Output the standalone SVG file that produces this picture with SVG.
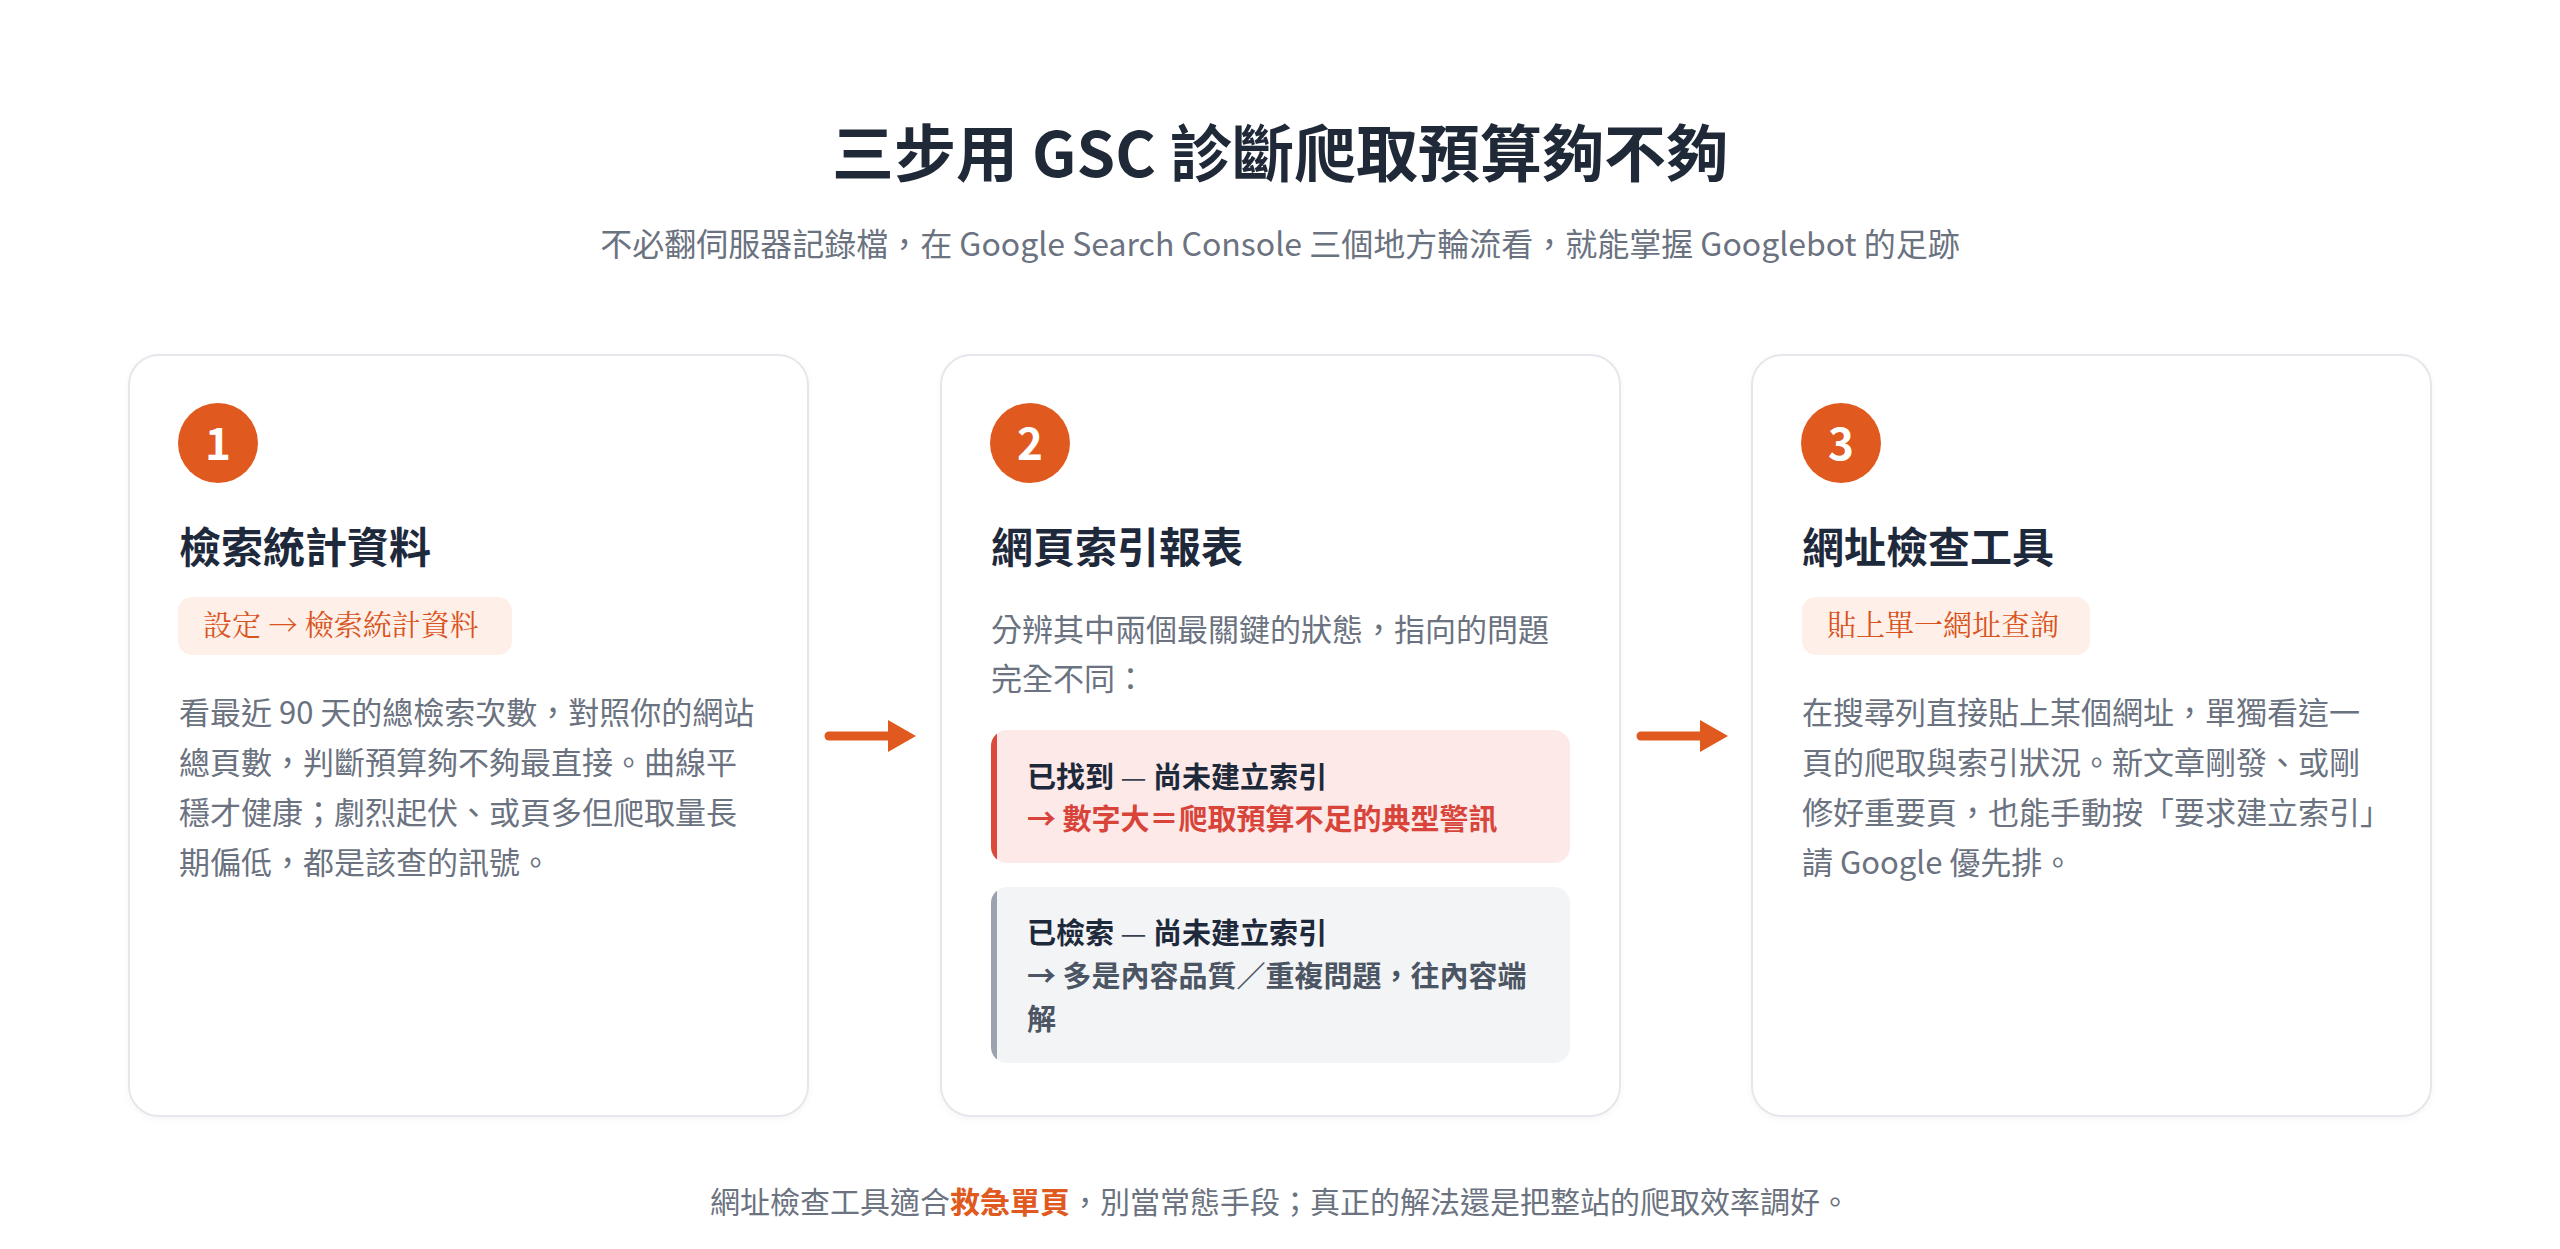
<svg xmlns="http://www.w3.org/2000/svg" width="2560" height="1249" viewBox="0 0 2560 1249">
<defs>
<style>
.t{font-family:"Noto Sans CJK TC","Noto Sans",sans-serif}
.h1{font-size:62px;font-weight:700;fill:#1f2937}
.sub{font-size:32px;fill:#6b7280}
.card{fill:#ffffff;stroke:#e4e7eb;stroke-width:2}
.num{fill:#e0591f}
.numt{font-size:44px;font-weight:700;fill:#ffffff}
.ct{font-size:42px;font-weight:700;fill:#1e293b}
.pill{fill:#fef0e8}
.pt{font-family:"Noto Serif CJK TC","Noto Sans CJK TC",serif;font-size:29px;fill:#d9541e}
.body{font-size:31px;fill:#6b7280}
.bx{font-size:29px;font-weight:700}
.dark{fill:#1e293b}
.dash{font-weight:400;fill:#374151}
.red{fill:#d8443a}
.gry{fill:#4b5563}
.foot{font-size:30px;fill:#6b7280}
.em{font-weight:700;fill:#e0591f}
.arr{stroke:#e0591f;stroke-width:9;stroke-linecap:round;fill:none}
.ah{fill:#e0591f}
</style>
<filter id="sh" x="-5%" y="-5%" width="110%" height="110%">
<feDropShadow dx="0" dy="2" stdDeviation="3" flood-color="#000" flood-opacity="0.04"/>
</filter>
<clipPath id="cr"><rect x="991" y="730" width="579" height="133" rx="16"/></clipPath>
<clipPath id="cg"><rect x="991" y="887" width="579" height="176" rx="16"/></clipPath>
</defs>
<rect width="2560" height="1249" fill="#ffffff"/>

<g id="header" class="t">
<text class="h1" x="1280" y="177" text-anchor="middle">三步用 GSC 診斷爬取預算夠不夠</text>
<text class="sub" x="1280" y="256" text-anchor="middle">不必翻伺服器記錄檔，在 Google Search Console 三個地方輪流看，就能掌握 Googlebot 的足跡</text>
</g>

<g id="connectors">
<g id="arrow1"><line class="arr" x1="829" y1="736" x2="892" y2="736"/><polygon class="ah" points="888,720 916,736 888,752"/></g>
<g id="arrow2"><line class="arr" x1="1641" y1="736" x2="1704" y2="736"/><polygon class="ah" points="1700,720 1728,736 1700,752"/></g>
</g>

<g id="step1" class="t">
<rect class="card" x="129" y="355" width="679" height="761" rx="30" filter="url(#sh)"/>
<circle class="num" cx="218" cy="443" r="40"/>
<text class="numt" x="218" y="460" text-anchor="middle">1</text>
<text class="ct" x="179" y="563">檢索統計資料</text>
<rect class="pill" x="178" y="597" width="334" height="58" rx="14"/>
<text class="pt" x="203" y="636">設定 → 檢索統計資料</text>
<text class="body" x="179" y="724">看最近 90 天的總檢索次數，對照你的網站</text>
<text class="body" x="179" y="774">總頁數，判斷預算夠不夠最直接。曲線平</text>
<text class="body" x="179" y="824">穩才健康；劇烈起伏、或頁多但爬取量長</text>
<text class="body" x="179" y="874">期偏低，都是該查的訊號。</text>
</g>

<g id="step2" class="t">
<rect class="card" x="941" y="355" width="679" height="761" rx="30" filter="url(#sh)"/>
<circle class="num" cx="1030" cy="443" r="40"/>
<text class="numt" x="1030" y="460" text-anchor="middle">2</text>
<text class="ct" x="991" y="563">網頁索引報表</text>
<text class="body" x="991" y="641">分辨其中兩個最關鍵的狀態，指向的問題</text>
<text class="body" x="991" y="690">完全不同：</text>
<g id="found">
<g clip-path="url(#cr)"><rect x="991" y="730" width="579" height="133" fill="#fde9e7"/><rect x="991" y="730" width="6" height="133" fill="#d94a3b"/></g>
<text class="bx dark" x="1027" y="788">已找到<tspan class="dash"> — </tspan>尚未建立索引</text>
<text class="bx red" x="1027" y="830">→ 數字大＝爬取預算不足的典型警訊</text>
</g>
<g id="crawled">
<g clip-path="url(#cg)"><rect x="991" y="887" width="579" height="176" fill="#f3f4f6"/><rect x="991" y="887" width="6" height="176" fill="#9ca3af"/></g>
<text class="bx dark" x="1027" y="944">已檢索<tspan class="dash"> — </tspan>尚未建立索引</text>
<text class="bx gry" x="1027" y="987">→ 多是內容品質／重複問題，往內容端</text>
<text class="bx gry" x="1027" y="1030">解</text>
</g>
</g>

<g id="step3" class="t">
<rect class="card" x="1752" y="355" width="679" height="761" rx="30" filter="url(#sh)"/>
<circle class="num" cx="1841" cy="443" r="40"/>
<text class="numt" x="1841" y="460" text-anchor="middle">3</text>
<text class="ct" x="1802" y="563">網址檢查工具</text>
<rect class="pill" x="1802" y="597" width="288" height="58" rx="14"/>
<text class="pt" x="1827" y="636">貼上單一網址查詢</text>
<text class="body" x="1802" y="724">在搜尋列直接貼上某個網址，單獨看這一</text>
<text class="body" x="1802" y="774">頁的爬取與索引狀況。新文章剛發、或剛</text>
<text class="body" x="1802" y="824">修好重要頁，也能手動按「要求建立索引」</text>
<text class="body" x="1802" y="874">請 Google 優先排。</text>
</g>

<g id="footer" class="t">
<text class="foot" x="1280" y="1213" text-anchor="middle">網址檢查工具適合<tspan class="em">救急單頁</tspan>，別當常態手段；真正的解法還是把整站的爬取效率調好。</text>
</g>
</svg>
